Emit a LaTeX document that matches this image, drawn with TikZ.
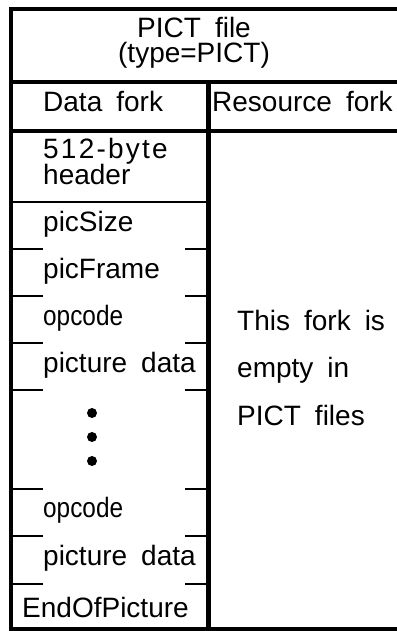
\documentclass[tikz,border=0pt]{standalone}
\usepackage{fontspec}
\setmainfont{Liberation Sans}
\usetikzlibrary{positioning}

\newcommand\macsize{\fontsize{28}{29}\selectfont\spaceskip=14pt\relax}

\tikzset{
  thickrule/.style={line width=4.5pt},
  thinrule/.style={line width=2pt},
  cell/.style={font=\macsize, inner sep=0pt, anchor=base west},
  squeezed/.style={font=\macsize\addfontfeature{FakeStretch=0.87}},
  headline/.style={font=\macsize, inner sep=0pt, anchor=base},
}

\begin{document}
\begin{tikzpicture}[x=1pt, y=-1pt]
    \useasboundingbox (0,0) rectangle (396,631);

    \draw[thickrule] (402,9) -- (11,9) -- (11,629) -- (402,629);
    \draw[thickrule] (11,82) -- (402,82);
    \draw[thickrule] (11,131) -- (402,131);
    \draw[thickrule] (208.5,82) -- (208.5,629);
    \draw[thinrule] (11,202) -- (208.5,202);
    \foreach \y in {249,296,343,390,489,536,584} {
        \draw[thinrule] (11,\y) -- (43,\y);
        \draw[thinrule] (185,\y) -- (208.5,\y);
    }

    \node[headline] (title) at (194,38) {PICT file};
    \node[headline] (type) at (194,63) {(type=PICT)};

    \node[cell] (datafork) at (43,112) {Data fork};
    \node[cell] (resfork) at (212,112) {Resource fork};

    \node[cell, font=\macsize\addfontfeature{LetterSpace=8}] (hdr1) at (43,159) {512-byte};
    \node[cell] (hdr2) at (43,184) {header};
    \node[cell] (picsize) at (43,231) {picSize};
    \node[cell] (picframe) at (43,278) {picFrame};
    \node[cell, squeezed] (opcode1) at (43,325) {opcode};
    \node[cell] (data1) at (43,372) {picture data};
    \fill (92,413) circle[radius=5pt];
    \fill (92,437) circle[radius=5pt];
    \fill (92,461) circle[radius=5pt];
    \node[cell, squeezed] (opcode2) at (43,517) {opcode};
    \node[cell] (data2) at (43,565) {picture data};
    \node[cell] (endpic) at (22,617) {EndOfPicture};

    \node[cell] (empty1) at (237,330) {This fork is};
    \node[cell] (empty2) at (237,377) {empty in};
    \node[cell] (empty3) at (237,425) {PICT files};
\end{tikzpicture}
\end{document}
